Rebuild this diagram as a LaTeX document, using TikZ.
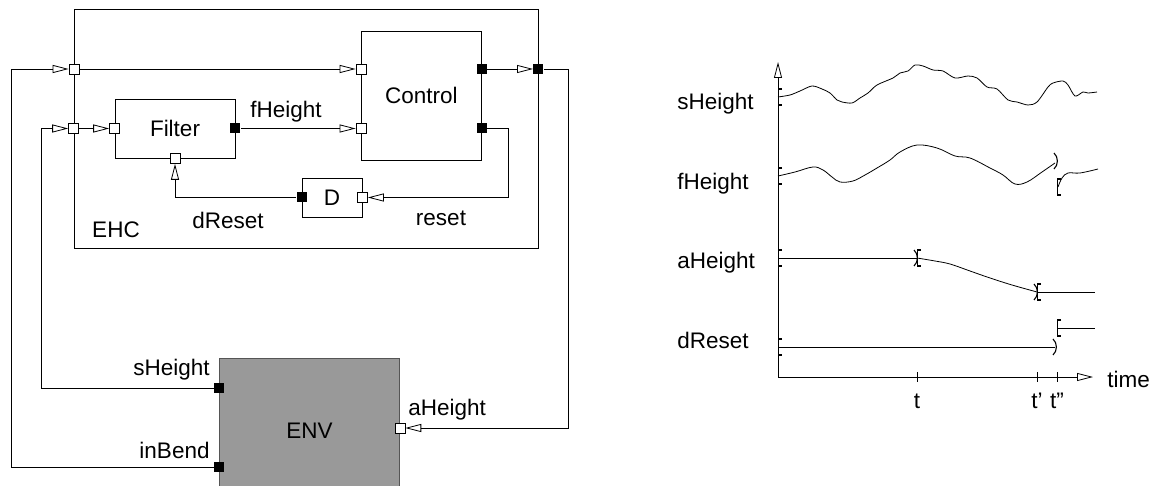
\documentclass[tikz,border=0pt]{standalone}
\usepackage{fontspec}
\setmainfont{Liberation Sans}
\usepackage{tikz}
\usetikzlibrary{arrows.meta,positioning,calc}
\definecolor{envgray}{RGB}{153,153,153}
\definecolor{envedge}{RGB}{85,85,85}

\begin{document}
\begin{tikzpicture}[
    x=1pt, y=-1pt,
    font=\fontsize{22.5}{26}\selectfont,
    line width=0.9pt,
    box/.style={rectangle, draw, inner sep=0pt},
    inport/.style={rectangle, draw, fill=white, minimum size=10pt, inner sep=0pt, line width=0.7pt},
    outport/.style={rectangle, fill=black, minimum size=10pt, inner sep=0pt},
    arrow/.style={-{Triangle[open, length=16pt, width=8pt, line width=0.8pt]}},
    lbl/.style={inner sep=1pt},
    startmark/.pic={\draw[line width=1.5pt] (4,-8) -- (0.5,-8) -- (0.5,8) -- (4,8);},
    endmark/.pic={\draw[line width=1.1pt] (-3,-8) .. controls (1.5,-4) and (1.5,4) .. (-3,8);}
]
    \path[use as bounding box] (0,0) rectangle (1155,486);
    \clip (0,0) rectangle (1155,486);

    % EHC block
    \node[box, minimum width=464pt, minimum height=239pt] (ehc) at (306,128.5) {};
    \node[lbl] (ehclbl) at (116,230) {EHC};
    \node[box, minimum width=120pt, minimum height=59pt] (filter) at (175,128.5) {Filter};
    \node[box, minimum width=120pt, minimum height=129pt, anchor=north west] (ctl) at (361,31) {Control};
    \node[box, minimum width=60pt, minimum height=39pt] (dly) at (332,197.5) {D};

    % ports
    \node[inport] (fltin) at (filter.west) {};
    \node[outport] (fltout) at (filter.east) {};
    \node[inport] (fltrst) at (filter.south) {};
    \node[inport] (ehcin1) at (74,69) {};
    \node[inport] (ehcin2) at (ehc.west |- fltin) {};
    \node[inport] (ctlin1) at (ctl.west |- ehcin1) {};
    \node[inport] (ctlin2) at (ctl.west |- fltout) {};
    \node[outport] (ctlout1) at (ctl.east |- ehcin1) {};
    \node[outport] (ctlout2) at (ctl.east |- fltout) {};
    \node[outport] (ehcout) at (ehc.east |- ctlout1) {};
    \node[outport] (dout) at (dly.west) {};
    \node[inport] (din) at (dly.east) {};

    % ENV block
    \node[box, fill=envgray, draw=envedge, minimum width=180pt, minimum height=144pt, anchor=north west] (env) at (219,358) {ENV};
    \node[outport] (envs) at (219,388) {};
    \node[outport] (envb) at (219,467) {};
    \node[inport] (enva) at (env.east |- 0,428) {};

    % connections
    \coordinate (rstbend) at (508,0);
    \coordinate (sbend) at (41,0);
    \coordinate (bbend) at (11,0);
    \coordinate (abend) at (568,0);
    \draw[arrow] (ehcin1) -- (ctlin1);
    \draw[arrow] (ehcin2) -- (fltin);
    \draw[arrow] (fltout) -- (ctlin2);
    \draw[arrow] (ctlout1) -- (ehcout);
    \draw[arrow] (ctlout2) -| (rstbend |- din) -- (din);
    \draw[arrow] (dout) -| (fltrst);
    \draw[arrow] (envs) -| (sbend |- ehcin2) -- (ehcin2);
    \draw[arrow] (envb) -| (bbend |- ehcin1) -- (ehcin1);
    \draw[arrow] (ehcout) -| (abend |- enva) -- (enva);

    % signal names
    \node[lbl] (fhlbl) at (286,112) {fHeight};
    \node[lbl] (drlbl) at (228,220) {dReset};
    \node[lbl] (rslbl) at (441,218) {reset};
    \node[lbl, anchor=east] (shlbl) at (211,370) {sHeight};
    \node[lbl, anchor=east] (iblbl) at (211,450) {inBend};
    \node[lbl, anchor=west] (ahlbl) at (407,410) {aHeight};

    % timing chart
    \coordinate (origin) at (778,377);
    \draw[arrow] (origin) -- (778,62);
    \draw[arrow] (origin) -- (1093,377);
    \node[lbl, anchor=base west] (timelbl) at (1106,387) {time};
    \foreach \tx/\tl in {917/t, 1037/t', 1057/t''} {
        \draw (\tx,372) -- (\tx,382);
        \node[lbl, anchor=base] at (\tx,408) {\tl};
    }
    \node[lbl, anchor=base west] (shrow) at (676,110) {sHeight};
    \node[lbl, anchor=base west] (fhrow) at (676,190) {fHeight};
    \node[lbl, anchor=base west] (ahrow) at (676,268) {aHeight};
    \node[lbl, anchor=base west] (drrow) at (676,348) {dReset};

    % sHeight
    \draw[line width=0.8pt] plot[smooth, tension=0.5] coordinates {(778,97) (790,95) (800,91) (812,86) (822,89) (830,93) (837,100) (842,102) (852,103) (860,98) (868,93) (877,85) (893,78) (900,73) (908,71) (915,65) (923,66) (933,70) (943,71) (955,78) (968,76) (977,78) (987,87) (997,89) (1008,100) (1017,102) (1028,105) (1037,102) (1048,87) (1053,83) (1063,81) (1068,85) (1075,96) (1083,92) (1088,93) (1097,92)};
    \pic at (778,97) {startmark};
    % fHeight
    \draw[line width=0.8pt] plot[smooth, tension=0.6] coordinates {(778,176) (795,172) (813,167) (823,170) (832,177) (840,182) (853,181) (865,175) (877,168) (890,160) (900,152) (917,145) (937,148) (955,156) (970,158) (990,168) (1003,175) (1015,184) (1027,182) (1042,172) (1055,163)};
    \pic at (778,176) {startmark};
    \pic at (1057,161) {endmark};
    \draw[line width=0.8pt] plot[smooth, tension=0.6] coordinates {(1058,187) (1062,178) (1068,173) (1080,173) (1098,169)};
    \pic at (1057,187) {startmark};
    % aHeight
    \draw[line width=0.8pt] (778,258) -- (917,258);
    \draw[line width=0.8pt] plot[smooth, tension=0.6] coordinates {(917,258) (935,261) (950,264) (970,271) (990,278) (1012,285) (1037,292)};
    \draw[line width=0.8pt] (1037,292) -- (1095,292);
    \pic at (778,258) {startmark};
    \pic at (917,258) {endmark};
    \pic at (917,258) {startmark};
    \pic at (1037,292) {endmark};
    \pic at (1037,292) {startmark};
    % dReset
    \draw[line width=0.8pt] (778,347) -- (1055,347);
    \pic at (778,347) {startmark};
    \pic at (1056,347) {endmark};
    \draw[line width=0.8pt] (1057,328) -- (1095,328);
    \pic at (1057,328) {startmark};
\end{tikzpicture}
\end{document}
